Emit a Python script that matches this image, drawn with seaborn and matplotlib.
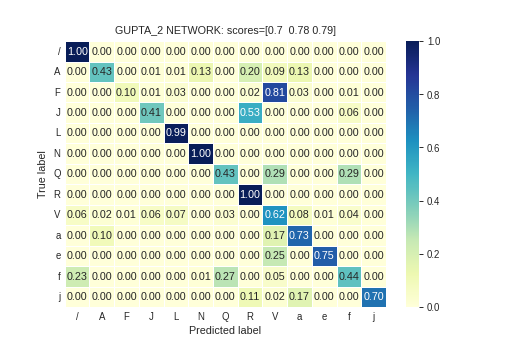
import numpy as np
import pandas as pd
import matplotlib
matplotlib.use("Agg")
import matplotlib.pyplot as plt
import seaborn as sns

labels = ['/', 'A', 'F', 'J', 'L', 'N', 'Q', 'R', 'V', 'a', 'e', 'f', 'j']

row_slash = [1.00, 0.00, 0.00, 0.00, 0.00, 0.00, 0.00, 0.00, 0.00, 0.00, 0.00, 0.00, 0.00]
row_A = [0.00, 0.43, 0.00, 0.01, 0.01, 0.13, 0.00, 0.20, 0.09, 0.13, 0.00, 0.00, 0.00]
row_F = [0.00, 0.00, 0.10, 0.01, 0.03, 0.00, 0.00, 0.02, 0.81, 0.03, 0.00, 0.01, 0.00]
row_J = [0.00, 0.00, 0.00, 0.41, 0.00, 0.00, 0.00, 0.53, 0.00, 0.00, 0.00, 0.06, 0.00]
row_L = [0.00, 0.00, 0.00, 0.00, 0.99, 0.00, 0.00, 0.00, 0.00, 0.00, 0.00, 0.00, 0.00]
row_N = [0.00, 0.00, 0.00, 0.00, 0.00, 1.00, 0.00, 0.00, 0.00, 0.00, 0.00, 0.00, 0.00]
row_Q = [0.00, 0.00, 0.00, 0.00, 0.00, 0.00, 0.43, 0.00, 0.29, 0.00, 0.00, 0.29, 0.00]
row_R = [0.00, 0.00, 0.00, 0.00, 0.00, 0.00, 0.00, 1.00, 0.00, 0.00, 0.00, 0.00, 0.00]
row_V = [0.06, 0.02, 0.01, 0.06, 0.07, 0.00, 0.03, 0.00, 0.62, 0.08, 0.01, 0.04, 0.00]
row_a = [0.00, 0.10, 0.00, 0.00, 0.00, 0.00, 0.00, 0.00, 0.17, 0.73, 0.00, 0.00, 0.00]
row_e = [0.00, 0.00, 0.00, 0.00, 0.00, 0.00, 0.00, 0.00, 0.25, 0.00, 0.75, 0.00, 0.00]
row_f = [0.23, 0.00, 0.00, 0.00, 0.00, 0.01, 0.27, 0.00, 0.05, 0.00, 0.00, 0.44, 0.00]
row_j = [0.00, 0.00, 0.00, 0.00, 0.00, 0.00, 0.00, 0.11, 0.02, 0.17, 0.00, 0.00, 0.70]

cm = pd.DataFrame([row_slash, row_A, row_F, row_J, row_L, row_N, row_Q, row_R,
                   row_V, row_a, row_e, row_f, row_j], index=labels, columns=labels)

sns.set_style("white")
plt.rcParams['font.family'] = ['Liberation Sans', 'DejaVu Sans']

fig = plt.figure(figsize=(6, 4), dpi=518 / 6)
ax = sns.heatmap(cm, annot=True, fmt='.2f', cmap='YlGnBu', vmin=0, vmax=1,
                 linewidths=0.5, linecolor='white', annot_kws={'size': 9})
ax.set_title('GUPTA_2 NETWORK: scores=[0.7  0.78 0.79]', fontsize=9)
ax.set_xlabel('Predicted label', fontsize=9)
ax.set_ylabel('True label', fontsize=9)
ax.tick_params(labelsize=8, length=0)
plt.yticks(rotation=0)

# colorbar keeps small tick marks in the reference
cbar = ax.collections[0].colorbar
cbar.ax.tick_params(labelsize=8, length=3, width=0.8, color='#262626', right=True)
cbar.outline.set_visible(False)

plt.savefig('out.png', dpi=518 / 6)
